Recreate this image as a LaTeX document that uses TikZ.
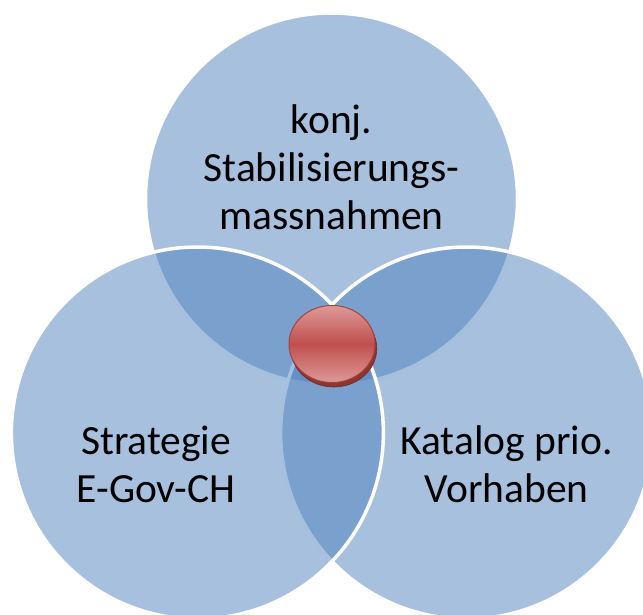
\documentclass[tikz,border=0pt]{standalone}
\usepackage{fontspec}
\setmainfont{Carlito}
\usetikzlibrary{shapes.geometric}
\definecolor{accentblue}{HTML}{4F81BD}
\definecolor{ballmid}{HTML}{C0504D}
\definecolor{balllight}{HTML}{DC9A98}
\definecolor{ballrimc}{HTML}{8E3532}
\definecolor{balledge}{HTML}{A9423F}
\tikzset{
  venn/.style={circle, inner sep=0pt, minimum size=372pt, fill=accentblue, fill opacity=0.5, draw=white, line width=3.5pt},
  lbl/.style={font=\fontsize{41.5}{48}\selectfont, align=center, text=black, anchor=base, inner sep=0pt},
}
\begin{document}
\begin{tikzpicture}[x=1pt,y=-1pt]
\useasboundingbox (0,0) rectangle (643,615);
\clip (0,0) rectangle (643,615);
\node[venn] (topc) at (331.5,199) {};
\node[venn] (rightc) at (466.6,433) {};
\node[venn] (leftc) at (197.4,433) {};
\node[ellipse, inner sep=0pt, minimum width=86pt, minimum height=77pt, fill=ballrimc, draw=ballrimc!80!black, line width=0.6pt] (ballrim) at (333.8,348.5) {};
\node[ellipse, inner sep=0pt, minimum width=86pt, minimum height=77pt, top color=balllight, bottom color=balllight, middle color=ballmid, draw=balledge, line width=1pt] (ball) at (332,344) {};
\node[lbl] (toptext) at (331.5,229.6) {konj.\\Stabilisierungs-\\massnahmen};
\node[lbl] (lefttext) at (156,502) {Strategie\\E-Gov-CH};
\node[lbl] (righttext) at (506.5,502) {Katalog prio.\\Vorhaben};
\end{tikzpicture}
\end{document}
